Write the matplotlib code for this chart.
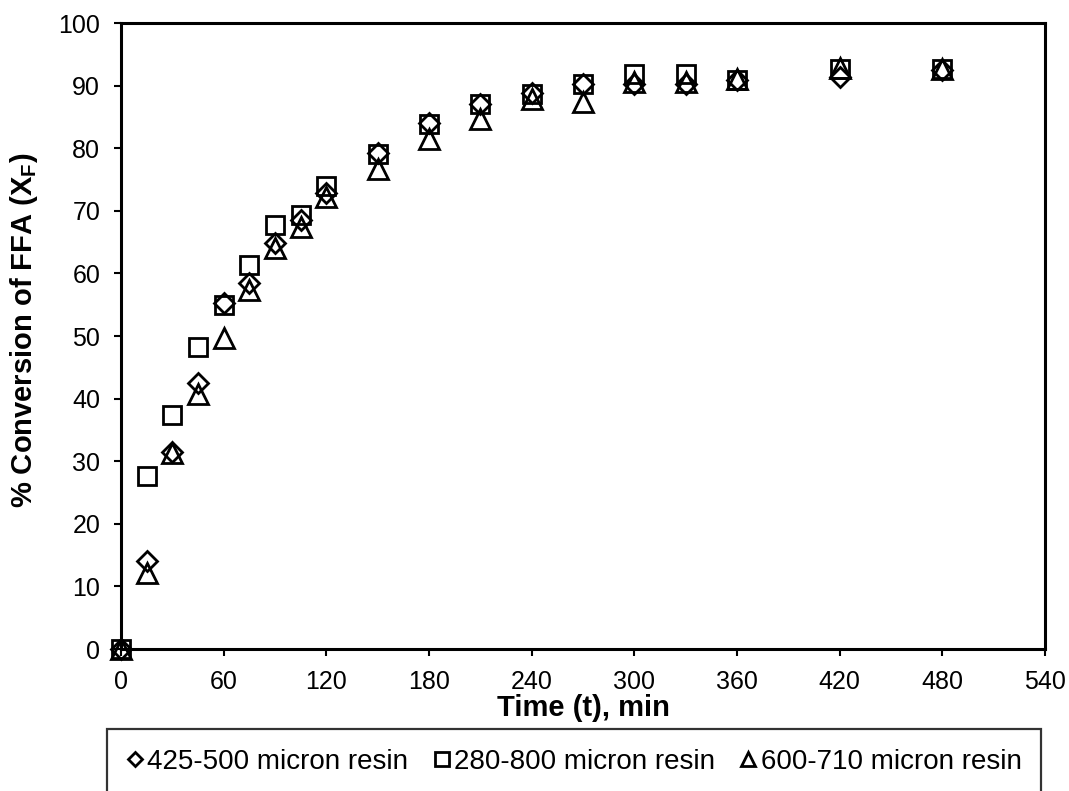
import matplotlib
matplotlib.use("Agg")
import matplotlib.pyplot as plt

plt.rcParams['font.family'] = ['Liberation Sans', 'DejaVu Sans']
plt.rcParams['mathtext.fontset'] = 'custom'
plt.rcParams['mathtext.rm'] = 'Liberation Sans'
plt.rcParams['mathtext.bf'] = 'Liberation Sans:bold'

# time, min
time = [0, 15, 30, 45, 60, 75, 90, 105, 120, 150, 180, 210, 240, 270, 300, 330, 360, 420, 480]
# % conversion of FFA for each resin size
conv_425_500 = [0, 14.1, 31.5, 42.5, 55.2, 58.5, 64.8, 68.6, 72.8, 79.2, 84.0, 87.1, 88.8, 90.3, 90.3, 90.3, 90.9, 91.3, 92.5]
conv_280_800 = [0, 27.7, 37.4, 48.3, 55.0, 61.3, 67.8, 69.4, 74.0, 79.1, 83.9, 87.1, 88.6, 90.3, 91.9, 91.9, 90.9, 92.6, 92.6]
conv_600_710 = [0, 12.1, 31.3, 40.7, 49.7, 57.4, 64.1, 67.4, 72.2, 76.7, 81.5, 84.6, 87.9, 87.4, 90.6, 90.6, 91.1, 92.8, 92.7]
labels = ['425-500 micron resin', '280-800 micron resin', '600-710 micron resin']

fig = plt.figure(figsize=(10.69, 7.91), dpi=100)
ax = fig.add_axes([0.1132, 0.1795, 0.8644, 0.7914])

mk = dict(linestyle='none', markerfacecolor='none', markeredgecolor='black',
          markeredgewidth=2.0, clip_on=False)
ax.plot(time, conv_425_500, marker='D', markersize=10, label=labels[0], **mk)
ax.plot(time, conv_280_800, marker='s', markersize=13, label=labels[1], **mk)
ax.plot(time, conv_600_710, marker='^', markersize=14, label=labels[2], **mk)

ax.set_xlim(0, 540)
ax.set_ylim(0, 100)
ax.set_xticks(range(0, 541, 60))
ax.set_yticks(range(0, 101, 10))
for s in ax.spines.values():
    s.set_linewidth(2.2)
ax.tick_params(direction='out', length=5, width=1.5, labelsize=18, pad=10)

ax.set_xlabel('Time (t), min', fontsize=21, fontweight='bold', labelpad=0)
ax.set_ylabel(r'% Conversion of FFA (X$_\mathbf{F}$)', fontsize=21, fontweight='bold')
ax.yaxis.set_label_coords(-0.088, 0.51)

leg = fig.legend(loc='center', bbox_to_anchor=(0.5370, 0.037), ncol=3, fontsize=20,
                 frameon=True, fancybox=False, edgecolor='black', markerscale=0.75,
                 handlelength=0.6, handletextpad=0.15, columnspacing=0.9,
                 borderpad=0.7, borderaxespad=0)
leg.get_frame().set_linewidth(1.6)

fig.savefig('out.png', dpi=100)
